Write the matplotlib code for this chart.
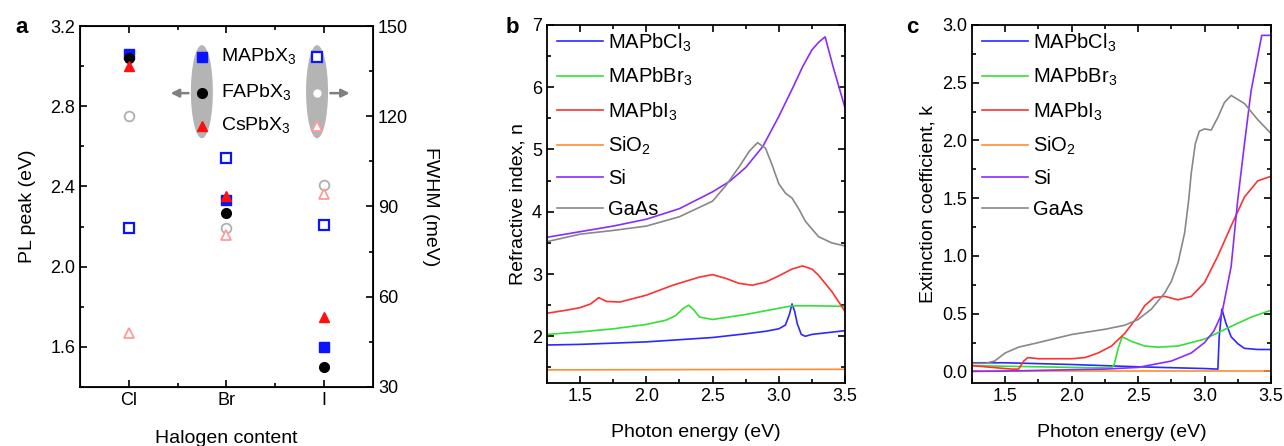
import numpy as np
import matplotlib
matplotlib.use('Agg')
import matplotlib.pyplot as plt
from matplotlib.patches import Ellipse
from matplotlib.ticker import MultipleLocator

plt.rcParams['font.family'] = ['Liberation Sans', 'DejaVu Sans']
plt.rcParams['mathtext.fontset'] = 'custom'
plt.rcParams['mathtext.rm'] = 'Liberation Sans'

# ---- panel a: PL peak / FWHM
halides = ['Cl', 'Br', 'I']
pl_ma = [3.06, 2.33, 1.60]
pl_fa = [3.04, 2.27, 1.50]
pl_cs = [3.00, 2.35, 1.75]
fwhm_ma = [83, 106, 84]
fwhm_fa = [120, 83, 97]
fwhm_cs = [48, 80.5, 94]

# ---- panel b: refractive index n
names = ['MAPbCl$_3$', 'MAPbBr$_3$', 'MAPbI$_3$', 'SiO$_2$', 'Si', 'GaAs']
colors = ['#2a2aff', '#33e033', '#ff3030', '#ff8c30', '#8a2cff', '#888888']

e_n_cl = [1.25, 1.5, 2.0, 2.5, 2.75, 2.9, 3.0, 3.05, 3.08, 3.1, 3.12, 3.14, 3.17, 3.2, 3.25, 3.5]
n_cl = [1.86, 1.87, 1.91, 1.98, 2.04, 2.08, 2.12, 2.18, 2.35, 2.52, 2.4, 2.2, 2.03, 2.0, 2.03, 2.09]
e_n_br = [1.25, 1.5, 1.75, 2.0, 2.15, 2.22, 2.28, 2.32, 2.36, 2.4, 2.5, 2.75, 3.0, 3.1, 3.25, 3.5]
n_br = [2.03, 2.07, 2.12, 2.19, 2.26, 2.33, 2.45, 2.5, 2.42, 2.31, 2.27, 2.35, 2.45, 2.49, 2.49, 2.48]
e_n_i = [1.25, 1.4, 1.5, 1.58, 1.64, 1.7, 1.8, 2.0, 2.2, 2.4, 2.5, 2.6, 2.7, 2.8, 2.9, 3.0,
         3.1, 3.18, 3.25, 3.3, 3.4, 3.5]
n_i = [2.37, 2.42, 2.46, 2.52, 2.62, 2.56, 2.55, 2.66, 2.82, 2.95, 2.99, 2.93, 2.85, 2.82, 2.87, 2.97,
       3.08, 3.13, 3.08, 2.98, 2.72, 2.4]
e_n_sio2 = [1.25, 3.5]
n_sio2 = [1.46, 1.47]
e_n_si = [1.25, 1.5, 1.75, 2.0, 2.25, 2.5, 2.63, 2.75, 2.88, 3.0, 3.11, 3.18, 3.25, 3.3, 3.35,
          3.41, 3.5]
n_si = [3.59, 3.68, 3.77, 3.88, 4.05, 4.32, 4.49, 4.71, 5.05, 5.53, 6.01, 6.33, 6.6, 6.72, 6.81,
        6.33, 5.67]
e_n_gaas = [1.25, 1.5, 1.75, 2.0, 2.25, 2.5, 2.6, 2.7, 2.78, 2.84, 2.9, 2.95, 3.0, 3.05, 3.1,
            3.15, 3.2, 3.3, 3.4, 3.5]
n_gaas = [3.52, 3.64, 3.7, 3.77, 3.92, 4.17, 4.42, 4.72, 4.98, 5.11, 5.02, 4.75, 4.45, 4.3, 4.22,
          4.05, 3.85, 3.6, 3.5, 3.45]

# ---- panel c: extinction coefficient k
e_k_cl = [1.25, 1.5, 2.0, 2.5, 3.0, 3.1, 3.11, 3.13, 3.16, 3.2, 3.25, 3.3, 3.4, 3.5]
k_cl = [0.075, 0.075, 0.06, 0.04, 0.025, 0.02, 0.3, 0.54, 0.42, 0.3, 0.24, 0.2, 0.19, 0.19]
e_k_br = [1.25, 1.75, 2.0, 2.3, 2.32, 2.35, 2.38, 2.45, 2.55, 2.65, 2.8, 3.0, 3.2, 3.35, 3.5]
k_br = [0.05, 0.04, 0.035, 0.03, 0.06, 0.2, 0.3, 0.26, 0.22, 0.21, 0.22, 0.28, 0.39, 0.47, 0.53]
e_k_i = [1.25, 1.4, 1.55, 1.6, 1.64, 1.67, 1.75, 2.0, 2.1, 2.2, 2.3, 2.4, 2.5, 2.55, 2.62, 2.7,
         2.8, 2.9, 3.0, 3.1, 3.2, 3.3, 3.4, 3.5]
k_i = [0.05, 0.035, 0.02, 0.02, 0.09, 0.12, 0.11, 0.11, 0.12, 0.16, 0.22, 0.33, 0.48, 0.57, 0.64, 0.65,
       0.62, 0.65, 0.77, 1.0, 1.26, 1.51, 1.65, 1.69]
e_k_sio2 = [1.25, 3.5]
k_sio2 = [0.0, 0.0]
e_k_si = [1.25, 1.5, 2.0, 2.25, 2.5, 2.75, 2.9, 3.0, 3.07, 3.13, 3.2, 3.25, 3.3, 3.35, 3.43, 3.5]
k_si = [0.0, 0.003, 0.015, 0.02, 0.035, 0.09, 0.16, 0.25, 0.35, 0.5, 0.91, 1.49, 1.97, 2.43, 2.91, 2.91]
e_k_gaas = [1.25, 1.35, 1.42, 1.5, 1.6, 1.75, 2.0, 2.25, 2.4, 2.5, 2.6, 2.7, 2.75, 2.8, 2.85, 2.88,
            2.9, 2.93, 2.96, 3.0, 3.05, 3.1, 3.15, 3.2, 3.3, 3.4, 3.5]
k_gaas = [0.07, 0.07, 0.09, 0.16, 0.21, 0.25, 0.32, 0.365, 0.4, 0.45, 0.54, 0.68, 0.78, 0.94, 1.2, 1.48,
          1.72, 1.97, 2.08, 2.1, 2.09, 2.2, 2.33, 2.39, 2.32, 2.18, 2.06]

n_series = [(e_n_cl, n_cl), (e_n_br, n_br), (e_n_i, n_i), (e_n_sio2, n_sio2), (e_n_si, n_si), (e_n_gaas, n_gaas)]
k_series = [(e_k_cl, k_cl), (e_k_br, k_br), (e_k_i, k_i), (e_k_sio2, k_sio2), (e_k_si, k_si), (e_k_gaas, k_gaas)]

FS = 13
LFS = 14

fig = plt.figure(figsize=(12.84, 4.46), dpi=100)
ax_a = fig.add_axes([0.0623, 0.1323, 0.2282, 0.8094])
ax_b = fig.add_axes([0.426, 0.1413, 0.2321, 0.8027])
ax_c = fig.add_axes([0.757, 0.1413, 0.2329, 0.8027])


def style(ax, right=True, top=True):
	for s in ax.spines.values():
		s.set_linewidth(1.3)
	ax.tick_params(which='both', direction='in', right=right, top=top, labelsize=FS, width=1.2)
	ax.tick_params(which='major', length=5)
	ax.tick_params(which='minor', length=3)


# panel a
ax_a.plot(halides, pl_ma, 's', color='#0a14ff', ms=7, zorder=3)
ax_a.plot(halides, pl_fa, 'o', color='black', ms=7, zorder=3)
ax_a.plot(halides, pl_cs, '^', color='#ff1010', ms=7, zorder=3)
ax_a.set_xlim(-0.5, 2.5)
ax_a.set_ylim(1.4, 3.2)
ax_a.set_yticks([1.6, 2.0, 2.4, 2.8, 3.2])
ax_a.yaxis.set_minor_locator(MultipleLocator(0.2))
ax_a.set_xticks([0.5, 1.5], minor=True)
style(ax_a, right=False)
ax_a.set_ylabel('PL peak (eV)', fontsize=LFS, labelpad=10)
ax_a.set_xlabel('Halogen content', fontsize=LFS, labelpad=15)

ax_a2 = ax_a.twinx()
ax_a2.plot(halides, fwhm_ma, 's', mfc='white', mec='#0a14ff', mew=1.6, ms=7)
ax_a2.plot(halides, fwhm_fa, 'o', mfc='white', mec='#b0b0b0', mew=1.3, ms=7)
ax_a2.plot(halides, fwhm_cs, '^', mfc='white', mec='#ff9a9a', mew=1.3, ms=7)
ax_a2.set_ylim(30, 150)
ax_a2.set_yticks([30, 60, 90, 120, 150])
ax_a2.yaxis.set_minor_locator(MultipleLocator(15))
ax_a2.tick_params(which='both', direction='in', labelsize=FS, width=1.2)
ax_a2.tick_params(which='major', length=5)
ax_a2.tick_params(which='minor', length=3)
ax_a2.set_ylabel('FWHM (meV)', fontsize=LFS, rotation=270, labelpad=22)

# inset legend for panel a
for xc in (0.416, 0.809):
	ax_a.add_patch(Ellipse((xc, 0.818), 0.075, 0.258, transform=ax_a.transAxes,
	                       color='#b4b4b4', zorder=2, lw=0))
ly = [0.914, 0.814, 0.723]
ax_a.plot([0.416], [ly[0]], 's', color='#0a14ff', ms=7, transform=ax_a.transAxes, zorder=4)
ax_a.plot([0.416], [ly[1]], 'o', color='black', ms=7, transform=ax_a.transAxes, zorder=4)
ax_a.plot([0.416], [ly[2]], '^', color='#ff1010', ms=7, transform=ax_a.transAxes, zorder=4)
ax_a.plot([0.809], [ly[0]], 's', mfc='white', mec='#0a14ff', mew=1.6, ms=7, transform=ax_a.transAxes, zorder=4)
ax_a.plot([0.809], [ly[1]], 'o', mfc='white', mec='#ffffff', ms=5, transform=ax_a.transAxes, zorder=4)
ax_a.plot([0.809], [ly[2]], '^', mfc='white', mec='#ff9a9a', mew=1.3, ms=7, transform=ax_a.transAxes, zorder=4)
for t, y in zip(['MAPbX$_3$', 'FAPbX$_3$', 'CsPbX$_3$'], ly):
	ax_a.text(0.48, y, t, transform=ax_a.transAxes, fontsize=LFS, va='center', ha='left', zorder=4)
ax_a.annotate('', xy=(0.30, 0.814), xytext=(0.38, 0.814), xycoords='axes fraction',
              arrowprops=dict(arrowstyle='-|>', color='#808080', lw=1.8, mutation_scale=12), zorder=3)
ax_a.annotate('', xy=(0.93, 0.814), xytext=(0.845, 0.814), xycoords='axes fraction',
              arrowprops=dict(arrowstyle='-|>', color='#808080', lw=1.8, mutation_scale=12), zorder=3)

# panels b and c
for ax, series in ((ax_b, n_series), (ax_c, k_series)):
	for (x, y), name, col in zip(series, names, colors):
		ax.plot(x, y, color=col, lw=1.2, label=name)
	ax.set_xlim(1.25, 3.5)
	ax.xaxis.set_major_locator(MultipleLocator(0.5))
	ax.xaxis.set_minor_locator(MultipleLocator(0.25))
	style(ax)
	ax.set_xlabel('Photon energy (eV)', fontsize=LFS, labelpad=14)
	ax.legend(loc='upper left', frameon=False, fontsize=14.5, handlelength=2.3,
	          handletextpad=0.25, labelspacing=0.6, borderaxespad=0.1, bbox_to_anchor=(0.0, 1.01))

ax_b.set_ylim(1.25, 7)
ax_b.yaxis.set_major_locator(MultipleLocator(1))
ax_b.yaxis.set_minor_locator(MultipleLocator(0.5))
ax_b.set_ylabel('Refractive index, n', fontsize=LFS)

ax_c.set_ylim(-0.1, 3.0)
ax_c.yaxis.set_major_locator(MultipleLocator(0.5))
ax_c.yaxis.set_minor_locator(MultipleLocator(0.25))
ax_c.yaxis.set_major_formatter(matplotlib.ticker.FormatStrFormatter('%.1f'))
ax_c.set_ylabel('Extinction coefficient, k', fontsize=LFS)

fig.text(0.012, 0.925, 'a', fontsize=16, fontweight='bold')
fig.text(0.394, 0.925, 'b', fontsize=16, fontweight='bold')
fig.text(0.706, 0.925, 'c', fontsize=16, fontweight='bold')

fig.savefig('out.png', dpi=100)
